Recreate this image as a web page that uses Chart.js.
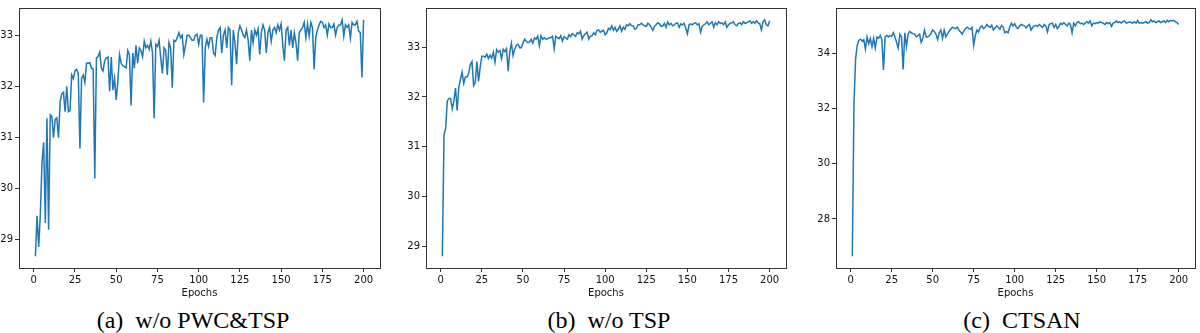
<!DOCTYPE html>
<html>
<head>
<meta charset="utf-8">
<script src="https://cdn.jsdelivr.net/npm/chart.js@4.4.1/dist/chart.umd.min.js"></script>
<style>
  html, body { margin: 0; padding: 0; background: #fff; }
  body { width: 1200px; height: 333px; position: relative; overflow: hidden; }
  .panel { position: absolute; top: 0; height: 300px; }
  .caption {
    position: absolute; top: 308px; width: 300px; text-align: center;
    font-family: "Liberation Serif", serif; font-size: 24px; line-height: 24px; color: #000;
    white-space: pre;
  }
</style>
</head>
<body>
<div class="panel" id="wrap-a" style="left:-31px;width:421px"><canvas id="chart-a"></canvas></div>
<div class="panel" id="wrap-b" style="left:376px;width:415px"><canvas id="chart-b"></canvas></div>
<div class="panel" id="wrap-c" style="left:786px;width:414px"><canvas id="chart-c"></canvas></div>
<div class="caption" style="left:43px">(a)&ensp;w/o PWC&amp;TSP</div>
<div class="caption" style="left:459px">(b)&ensp;w/o TSP</div>
<div class="caption" style="left:872px">(c)&ensp;CTSAN</div>

<script>
const epochs = Array.from({ length: 200 }, (_, i) => i + 1);
const xTicks = [0, 25, 50, 75, 100, 125, 150, 175, 200];

// (a) w/o PWC&TSP
const psnrNoPwcTsp = [
  28.67, 29.46, 28.85, 29.5, 30.5, 30.9, 29.32, 31.37, 29.19, 31.44,
  31.4, 30.99, 31.35, 31.38, 30.99, 31.7, 31.85, 31.88, 31.5, 32.0,
  31.5, 31.52, 32.22, 32.15, 32.3, 32.33, 32.25, 30.78, 32.15, 32.22,
  32.08, 32.45, 32.45, 32.46, 32.35, 32.34, 30.19, 32.55, 32.58, 32.67,
  32.35, 32.3, 32.5, 32.55, 32.57, 31.9, 32.57, 31.92, 32.15, 31.73,
  32.1, 32.62, 32.45, 32.4, 32.38, 32.36, 32.7, 32.62, 31.62, 32.65,
  32.35, 32.8, 32.45, 32.75, 32.7, 32.58, 32.88, 32.75, 32.8, 32.72,
  32.88, 32.65, 31.37, 32.82, 32.78, 32.9, 32.55, 32.25, 32.75, 32.7,
  32.22, 32.86, 32.75, 31.97, 32.9, 32.88, 32.95, 33.05, 32.95, 33.0,
  32.62, 32.8, 33.0, 33.0, 32.95, 32.9, 32.9, 33.0, 33.02, 32.82,
  33.0, 33.0, 31.68, 32.75, 32.92, 32.78, 32.95, 32.95, 32.65, 32.6,
  32.95, 33.1, 33.15, 32.65, 33.0, 33.1, 32.75, 33.15, 33.1, 32.02,
  33.1, 32.85, 32.43, 33.05, 33.18, 33.1, 33.0, 32.95, 33.1, 32.9,
  32.5, 33.1, 32.85, 33.1, 33.0, 33.12, 32.62, 33.05, 33.2, 33.1,
  32.65, 33.05, 33.15, 32.88, 33.1, 33.15, 33.05, 33.2, 33.1, 33.22,
  32.8, 32.5, 33.1, 33.15, 32.8, 33.1, 32.75, 33.05, 32.85, 32.5,
  33.05, 33.1, 33.15, 33.25, 32.95, 33.22, 32.98, 33.25, 33.15, 32.33,
  32.95, 33.1, 33.2, 33.27, 33.25, 33.15, 33.2, 33.0, 33.22, 33.15,
  33.15, 33.22, 33.0, 33.15, 33.2, 33.2, 33.3, 32.98, 33.2, 33.15,
  33.2, 32.94, 33.25, 33.2, 33.2, 33.27, 33.08, 33.05, 32.17, 33.3
];
const yTicksA = [29, 30, 31, 32, 33];

// (b) w/o TSP
const psnrNoTsp = [
  28.8, 31.24, 31.37, 31.92, 31.97, 31.97, 31.76, 31.92, 32.18, 31.73,
  32.2, 32.35, 32.5, 32.27, 32.4, 32.4, 32.47, 32.65, 32.71, 32.23,
  32.3, 32.71, 32.31, 32.6, 32.82, 32.82, 32.8, 32.86, 32.77, 32.84,
  32.78, 32.9, 32.7, 32.95, 32.9, 32.93, 32.77, 32.96, 32.91, 32.97,
  32.52, 32.9, 33.08, 32.83, 32.96, 33.04, 33.06, 32.99, 32.99, 33.08,
  33.16, 33.12, 33.09, 33.1, 33.16, 33.08, 33.19, 33.16, 33.22, 33.03,
  33.23, 33.16, 33.19, 33.16, 33.17, 33.19, 33.19, 33.22, 32.97, 33.22,
  33.19, 33.17, 33.23, 33.12, 33.21, 33.19, 33.16, 33.25, 33.21, 33.27,
  33.25, 33.22, 33.29, 33.27, 33.32, 33.16, 33.23, 33.27, 33.3, 33.16,
  33.22, 33.23, 33.29, 33.25, 33.34, 33.35, 33.3, 33.32, 33.34, 33.25,
  33.29, 33.38, 33.35, 33.43, 33.34, 33.4, 33.32, 33.36, 33.43, 33.32,
  33.4, 33.36, 33.45, 33.43, 33.47, 33.43, 33.43, 33.36, 33.38, 33.45,
  33.45, 33.48, 33.45, 33.43, 33.42, 33.48, 33.45, 33.4, 33.34, 33.42,
  33.45, 33.49, 33.47, 33.42, 33.43, 33.48, 33.4, 33.51, 33.45, 33.48,
  33.43, 33.45, 33.48, 33.49, 33.4, 33.47, 33.45, 33.48, 33.38, 33.27,
  33.45, 33.47, 33.45, 33.48, 33.49, 33.45, 33.47, 33.3, 33.42, 33.45,
  33.47, 33.51, 33.45, 33.48, 33.51, 33.4, 33.49, 33.45, 33.51, 33.48,
  33.49, 33.45, 33.51, 33.4, 33.45, 33.48, 33.49, 33.51, 33.45, 33.43,
  33.48, 33.49, 33.45, 33.51, 33.48, 33.49, 33.51, 33.53, 33.48, 33.51,
  33.48, 33.53, 33.49, 33.47, 33.35, 33.51, 33.55, 33.45, 33.43, 33.53
];
const yTicksB = [29, 30, 31, 32, 33];

// (c) CTSAN
const psnrCtsan = [
  26.65, 32.2, 33.8, 34.3, 34.48, 34.52, 34.45, 34.5, 34.15, 34.6,
  34.35, 34.55, 34.25, 34.55, 34.2, 34.6, 34.55, 34.65, 34.5, 33.4,
  34.6, 34.65, 34.6, 34.65, 34.62, 34.75, 34.6, 34.4, 34.2, 34.7,
  34.6, 33.42, 34.75, 34.25, 34.7, 34.8, 34.75, 34.72, 34.7, 34.6,
  34.65, 34.7, 34.4, 34.55, 34.85, 34.6, 34.6, 34.65, 34.72, 34.85,
  34.8, 34.7, 34.5, 34.75, 34.85, 34.55, 34.85, 34.6, 34.7, 34.8,
  34.88, 34.95, 34.92, 34.9, 34.95, 34.85, 34.78, 34.7, 34.82, 34.9,
  34.95, 34.9, 34.88, 34.95, 34.3, 34.65, 34.85, 34.78, 34.95, 35.0,
  34.9, 34.95, 35.05, 34.98, 34.95, 35.02, 34.85, 34.92, 35.0, 34.95,
  34.88, 35.02, 34.95, 34.75, 34.8, 34.75, 34.95, 35.1, 35.0, 35.08,
  34.95, 34.9, 35.0, 35.05, 35.02, 35.0, 34.92, 35.0, 35.05, 34.85,
  34.95, 35.0, 35.02, 34.98, 35.05, 35.0, 34.95, 35.05, 35.0, 34.78,
  35.05, 35.08, 35.1, 34.95, 35.05, 34.9, 34.98, 35.1, 35.05, 35.12,
  35.05, 35.0, 35.1, 35.05, 34.75, 35.1, 35.0, 35.12, 35.15, 35.08,
  35.1, 35.05, 35.1, 35.15, 35.1, 35.18, 35.0, 35.1, 35.08, 35.12,
  35.1, 35.15, 35.12, 35.1, 35.05, 35.12, 35.08, 35.12, 34.98, 35.1,
  35.12, 35.18, 35.12, 35.15, 35.1, 35.15, 35.18, 35.1, 35.12, 35.15,
  35.12, 35.1, 35.15, 35.1, 35.2, 35.1, 35.12, 35.1, 35.12, 35.15,
  35.1, 35.12, 35.22, 35.15, 35.18, 35.12, 35.15, 35.18, 35.12, 35.15,
  35.18, 35.12, 35.2, 35.15, 35.2, 35.18, 35.2, 35.15, 35.12, 35.05
];
const yTicksC = [28, 30, 32, 34];

// matplotlib style 5% margins around the data
function padRange(vals) {
  const lo = Math.min(...vals), hi = Math.max(...vals);
  const m = (hi - lo) * 0.05;
  return [lo - m, hi + m];
}

const boxPlugin = {
  id: 'box',
  afterDraw(chart) {
    const a = chart.chartArea;
    const ctx = chart.ctx;
    ctx.save();
    ctx.strokeStyle = '#333';
    ctx.lineWidth = 1;
    ctx.strokeRect(Math.round(a.left) + 0.5, Math.round(a.top) + 0.5,
      Math.round(a.right - a.left), Math.round(a.bottom - a.top));
    ctx.restore();
  }
};

function makeChart(id, values, yTicks, rightPad) {
  const [xMin, xMax] = padRange(epochs);
  const [yMin, yMax] = padRange(values);
  const tickFont = { family: 'DejaVu Sans', size: 10 };
  new Chart(document.getElementById(id), {
    type: 'line',
    data: {
      datasets: [{
        data: epochs.map((e, i) => ({ x: e, y: values[i] })),
        borderColor: '#1f77b4',
        borderWidth: 1.5,
        pointRadius: 0,
        tension: 0,
        fill: false,
      }],
    },
    options: {
      responsive: true,
      maintainAspectRatio: false,
      animation: false,
      layout: { padding: { top: 1, right: rightPad, bottom: 0, left: 0 } },
      plugins: { legend: { display: false }, tooltip: { enabled: false } },
      scales: {
        x: {
          type: 'linear',
          min: xMin,
          max: xMax,
          afterBuildTicks: s => { s.ticks = xTicks.map(v => ({ value: v })); },
          afterFit: s => { s.height = 32; },
          grid: { drawOnChartArea: false, color: '#333', tickLength: 4 },
          border: { display: false },
          ticks: { font: tickFont, color: '#111', padding: 2, maxRotation: 0 },
          title: { display: true, text: 'Epochs', font: tickFont, color: '#111', padding: { top: 0, bottom: 1 } },
        },
        y: {
          type: 'linear',
          min: yMin,
          max: yMax,
          afterBuildTicks: s => { s.ticks = yTicks.map(v => ({ value: v })); },
          afterFit: s => { s.width = 50; },
          grid: { drawOnChartArea: false, color: '#333', tickLength: 4 },
          border: { display: false },
          ticks: { font: tickFont, color: '#111', padding: 2 },
        },
      },
    },
    plugins: [boxPlugin],
  });
}

window.onload = () => {
  makeChart('chart-a', psnrNoPwcTsp, yTicksA, 10);
  makeChart('chart-b', psnrNoTsp, yTicksB, 5);
  makeChart('chart-c', psnrCtsan, yTicksC, 5);
};
</script>
</body>
</html>
